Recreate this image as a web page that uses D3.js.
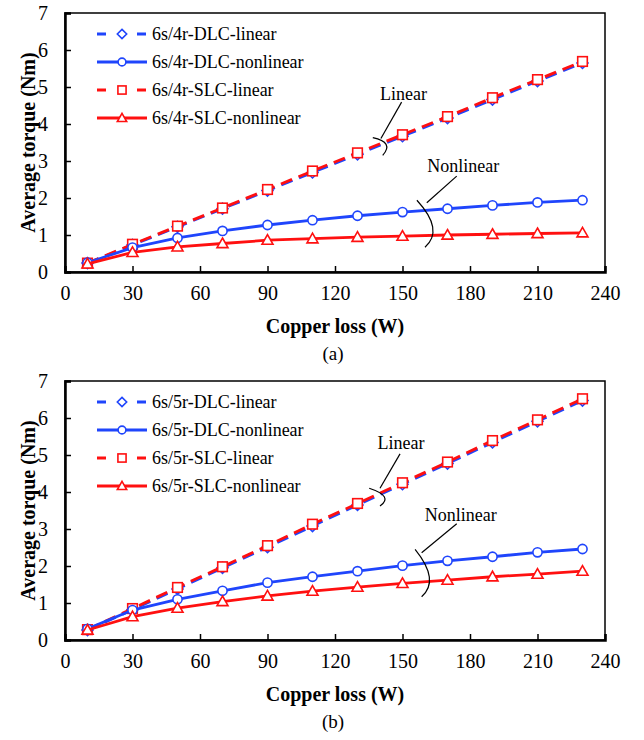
<!DOCTYPE html>
<html>
<head>
<meta charset="utf-8">
<script src="https://cdn.jsdelivr.net/npm/d3@7"></script>
<style>
  body { margin: 0; background: #fff; }
  svg text { font-family: "Liberation Serif", "Times New Roman", serif; fill: #000; }
</style>
</head>
<body>
<div id="chart"></div>
<script>
// x values (copper loss, W)
const copperLoss = [10, 30, 50, 70, 90, 110, 130, 150, 170, 190, 210, 230];
const xTicks = [0, 30, 60, 90, 120, 150, 180, 210, 240];
const yTicks = [0, 1, 2, 3, 4, 5, 6, 7];

// (a) 6s/4r
const dlcLinear4r    = [0.24, 0.73, 1.22, 1.71, 2.20, 2.69, 3.18, 3.67, 4.16, 4.66, 5.16, 5.65];
const dlcNonlinear4r = [0.25, 0.66, 0.92, 1.11, 1.27, 1.40, 1.52, 1.62, 1.71, 1.80, 1.88, 1.94];
const slcLinear4r    = [0.24, 0.75, 1.24, 1.73, 2.23, 2.73, 3.22, 3.71, 4.20, 4.71, 5.20, 5.69];
const slcNonlinear4r = [0.22, 0.53, 0.68, 0.77, 0.86, 0.90, 0.94, 0.97, 1.00, 1.02, 1.04, 1.06];

// (b) 6s/5r
const dlcLinear5r    = [0.27, 0.82, 1.38, 1.95, 2.51, 3.08, 3.65, 4.21, 4.77, 5.34, 5.91, 6.47];
const dlcNonlinear5r = [0.30, 0.81, 1.10, 1.33, 1.55, 1.71, 1.86, 2.01, 2.14, 2.25, 2.37, 2.46];
const slcLinear5r    = [0.28, 0.85, 1.42, 1.98, 2.55, 3.13, 3.69, 4.25, 4.81, 5.39, 5.95, 6.52];
const slcNonlinear5r = [0.27, 0.63, 0.86, 1.04, 1.19, 1.32, 1.43, 1.53, 1.62, 1.71, 1.78, 1.86];

const BLUE = "#1f45fc", RED = "#ff1010";

const panels = [
  {
    top: 13, label: "(a)", prefix: "6s/4r",
    series: [dlcLinear4r, dlcNonlinear4r, slcLinear4r, slcNonlinear4r],
    // annotation positions in data units
    linear: { text: [150.4, 4.82], lead: [[149.6, 4.59], [140.4, 3.61]], arc: [[136.8, 3.63], [142.7, 3.45], [141.2, 3.15]] },
    nonlinear: { text: [177, 2.87], lead: [[174.1, 2.59], [160.8, 1.87]], arc: [[156.4, 1.94], [163.4, 1.22], [160, 0.67]] }
  },
  {
    top: 381, label: "(b)", prefix: "6s/5r",
    series: [dlcLinear5r, dlcNonlinear5r, slcLinear5r, slcNonlinear5r],
    linear: { text: [149.3, 5.32], lead: [[148.9, 5.03], [140, 4.1]], arc: [[135.2, 4.1], [141.9, 3.87], [140, 3.62]] },
    nonlinear: { text: [175.9, 3.38], lead: [[174.1, 3.14], [158.5, 2.36]], arc: [[155.6, 2.45], [161.9, 1.71], [158.5, 1.17]] }
  }
];

const styles = [
  { name: "DLC-linear",    color: BLUE, dash: "12,7", marker: "diamond" },
  { name: "DLC-nonlinear", color: BLUE, dash: null,   marker: "circle" },
  { name: "SLC-linear",    color: RED,  dash: "12,7", marker: "square" },
  { name: "SLC-nonlinear", color: RED,  dash: null,   marker: "triangle" }
];
const drawOrder = [0, 2, 1, 3];

const svg = d3.select("#chart").append("svg")
  .attr("width", 644).attr("height", 740);

const left = 65, right = 605, plotH = 259;

function drawMarker(g, type, cx, cy, color, r = 1) {
  let m;
  if (type === "circle") {
    m = g.append("circle").attr("cx", cx).attr("cy", cy).attr("r", 4.6 * r);
  } else if (type === "square") {
    const h = 4.8 * r;
    m = g.append("rect").attr("x", cx - h).attr("y", cy - h).attr("width", 2 * h).attr("height", 2 * h);
  } else if (type === "diamond") {
    const h = 5.5 * r;
    m = g.append("path").attr("d", `M${cx},${cy - h}L${cx + h},${cy}L${cx},${cy + h}L${cx - h},${cy}Z`);
  } else {
    const h = 5.5 * r;
    m = g.append("path").attr("d", `M${cx},${cy - h}L${cx + h},${cy + 0.75 * h}L${cx - h},${cy + 0.75 * h}Z`);
  }
  m.attr("fill", "#fff").attr("stroke", color).attr("stroke-width", 1.6);
}

panels.forEach(p => {
  const x = d3.scaleLinear().domain([0, 240]).range([left, right]);
  const y = d3.scaleLinear().domain([0, 7]).range([p.top + plotH, p.top]);
  const g = svg.append("g");

  // frame
  g.append("rect").attr("x", left).attr("y", p.top).attr("width", right - left).attr("height", plotH)
    .attr("fill", "none").attr("stroke", "#000").attr("stroke-width", 1.5);

  // axes (ticks inside)
  const xAxis = g.append("g").attr("transform", `translate(0,${p.top + plotH})`)
    .call(d3.axisBottom(x).tickValues(xTicks).tickSize(-6).tickPadding(14).tickFormat(d3.format("d")));
  const yAxis = g.append("g").attr("transform", `translate(${left},0)`)
    .call(d3.axisLeft(y).tickValues(yTicks).tickSize(-6).tickPadding(17).tickFormat(d3.format("d")));
  [xAxis, yAxis].forEach(a => {
    a.attr("font-family", null).attr("font-size", null);
    a.select(".domain").attr("stroke", "#000").attr("stroke-width", 2.5);
    a.selectAll(".tick line").attr("stroke", "#000").attr("stroke-width", 1.5);
    a.selectAll(".tick text").style("font-size", "20px").style("font-family", "'Liberation Serif', serif");
  });

  // axis titles
  g.append("text").attr("x", (left + right) / 2).attr("y", p.top + plotH + 61)
    .attr("text-anchor", "middle").attr("font-size", 20).attr("font-weight", "bold")
    .text("Copper loss (W)");
  g.append("text").attr("transform", `translate(35,${p.top + plotH / 2}) rotate(-90)`)
    .attr("text-anchor", "middle").attr("font-size", 20).attr("font-weight", "bold")
    .text("Average torque (Nm)");
  g.append("text").attr("x", 333).attr("y", p.top + plotH + 88)
    .attr("text-anchor", "middle").attr("font-size", 19).text(p.label);

  // series
  const line = d3.line().x((d, i) => x(copperLoss[i])).y(d => y(d));
  drawOrder.forEach(k => {
    const s = styles[k];
    g.append("path").datum(p.series[k]).attr("d", line)
      .attr("fill", "none").attr("stroke", s.color).attr("stroke-width", 2.8)
      .attr("stroke-dasharray", s.dash);
    const mg = g.append("g");
    p.series[k].forEach((v, i) => drawMarker(mg, s.marker, x(copperLoss[i]), y(v), s.color));
  });

  // legend
  styles.forEach((s, i) => {
    const ly = p.top + 21 + i * 28;
    g.append("line").attr("x1", 97).attr("x2", 147).attr("y1", ly).attr("y2", ly)
      .attr("stroke", s.color).attr("stroke-width", 2.8)
      .attr("stroke-dasharray", s.dash ? "9,31" : null);
    drawMarker(g, s.marker, 122, ly, s.color, 0.85);
    g.append("text").attr("x", 152).attr("y", ly).attr("dy", "0.33em")
      .attr("font-size", 18).text(`${p.prefix}-${s.name}`);
  });

  // annotations
  [["Linear", p.linear], ["Nonlinear", p.nonlinear]].forEach(([label, a]) => {
    g.append("text").attr("x", x(a.text[0])).attr("y", y(a.text[1])).attr("dy", "0.33em")
      .attr("text-anchor", "middle").attr("font-size", 18).text(label);
    g.append("line")
      .attr("x1", x(a.lead[0][0])).attr("y1", y(a.lead[0][1]))
      .attr("x2", x(a.lead[1][0])).attr("y2", y(a.lead[1][1]))
      .attr("stroke", "#000").attr("stroke-width", 1.2);
    const [s0, ap, e0] = a.arc.map(d => [x(d[0]), y(d[1])]);
    const c = [2 * ap[0] - (s0[0] + e0[0]) / 2, 2 * ap[1] - (s0[1] + e0[1]) / 2];
    g.append("path").attr("d", `M${s0[0]},${s0[1]}Q${c[0]},${c[1]} ${e0[0]},${e0[1]}`)
      .attr("fill", "none").attr("stroke", "#000").attr("stroke-width", 1.2);
  });
});
</script>
</body>
</html>
